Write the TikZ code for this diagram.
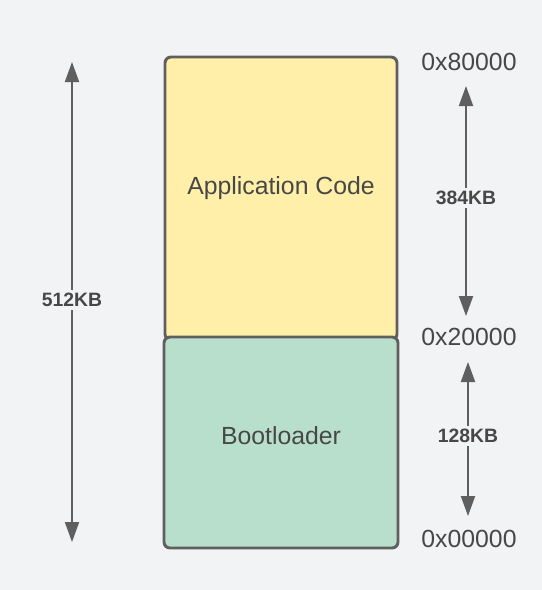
\documentclass[tikz,border=0pt]{standalone}
\usepackage{fontspec}
\setmainfont{Liberation Sans}
\usetikzlibrary{positioning,calc}
\usetikzlibrary{arrows.meta}
\definecolor{bggray}{HTML}{F2F3F5}
\definecolor{codeyellow}{HTML}{FFEFA8}
\definecolor{bootgreen}{HTML}{B8DFCB}
\definecolor{edgegray}{HTML}{5F5F5F}
\definecolor{textgray}{HTML}{474747}
\tikzstyle{sizearrow} = [line width=1.5pt,draw=edgegray,{Triangle[width=10.5pt,length=15pt]}-{Triangle[width=10.5pt,length=15pt]}]

\begin{document}
\begin{tikzpicture}[x=0.75pt,y=-0.75pt,
	block/.style={draw=edgegray, line width=2.2pt, rounded corners=4.5pt, inner sep=0pt},
	blocktitle/.style={font=\fontsize{18.6}{22}\selectfont, text=textgray},
	address/.style={font=\fontsize{18.6}{22}\selectfont, text=textgray, inner sep=0pt},
	size/.style={font=\bfseries\fontsize{14.5}{17}\selectfont, text=textgray, fill=bggray, inner sep=2pt}]
		
		% BACKGROUND
		
		\fill[bggray] (0,0) rectangle (542,590);
		\useasboundingbox (0,0) rectangle (542,590);
		
		% MEMORY BLOCKS
		
		\node [block, fill=codeyellow, minimum width=174pt, minimum height=212.25pt] (appcode) at (281,198.5) {};
		\node [blocktitle] (apptitle) at (281,188) {Application Code};
		
		\node [block, fill=bootgreen, minimum width=175.5pt, minimum height=158.25pt] (bootloader) at (281,442.5) {};
		\node [blocktitle] (boottitle) at (281,436) {Bootloader};
		
		% ADDRESSES
		
		\node [address] (addrtop) at (469,62) {0x80000};
		\node [address] (addrmid) at (469,337) {0x20000};
		\node [address] (addrbot) at (469,539) {0x00000};
		
		% SIZES
		
		\coordinate (totaltop) at (72,62);
		\coordinate (totalbot) at (72,542);
		\draw [sizearrow] (totaltop) -- (totalbot);
		\node [size] (totalsize) at (72,300) {512KB};
		
		\coordinate (apptop) at (466,86);
		\coordinate (appbot) at (466,316);
		\draw [sizearrow] (apptop) -- (appbot);
		\node [size] (appsize) at (466,198) {384KB};
		
		\coordinate (boottop) at (468,362);
		\coordinate (bootbot) at (468,516);
		\draw [sizearrow] (boottop) -- (bootbot);
		\node [size] (bootsize) at (468,436) {128KB};
		
\end{tikzpicture}
\end{document}
